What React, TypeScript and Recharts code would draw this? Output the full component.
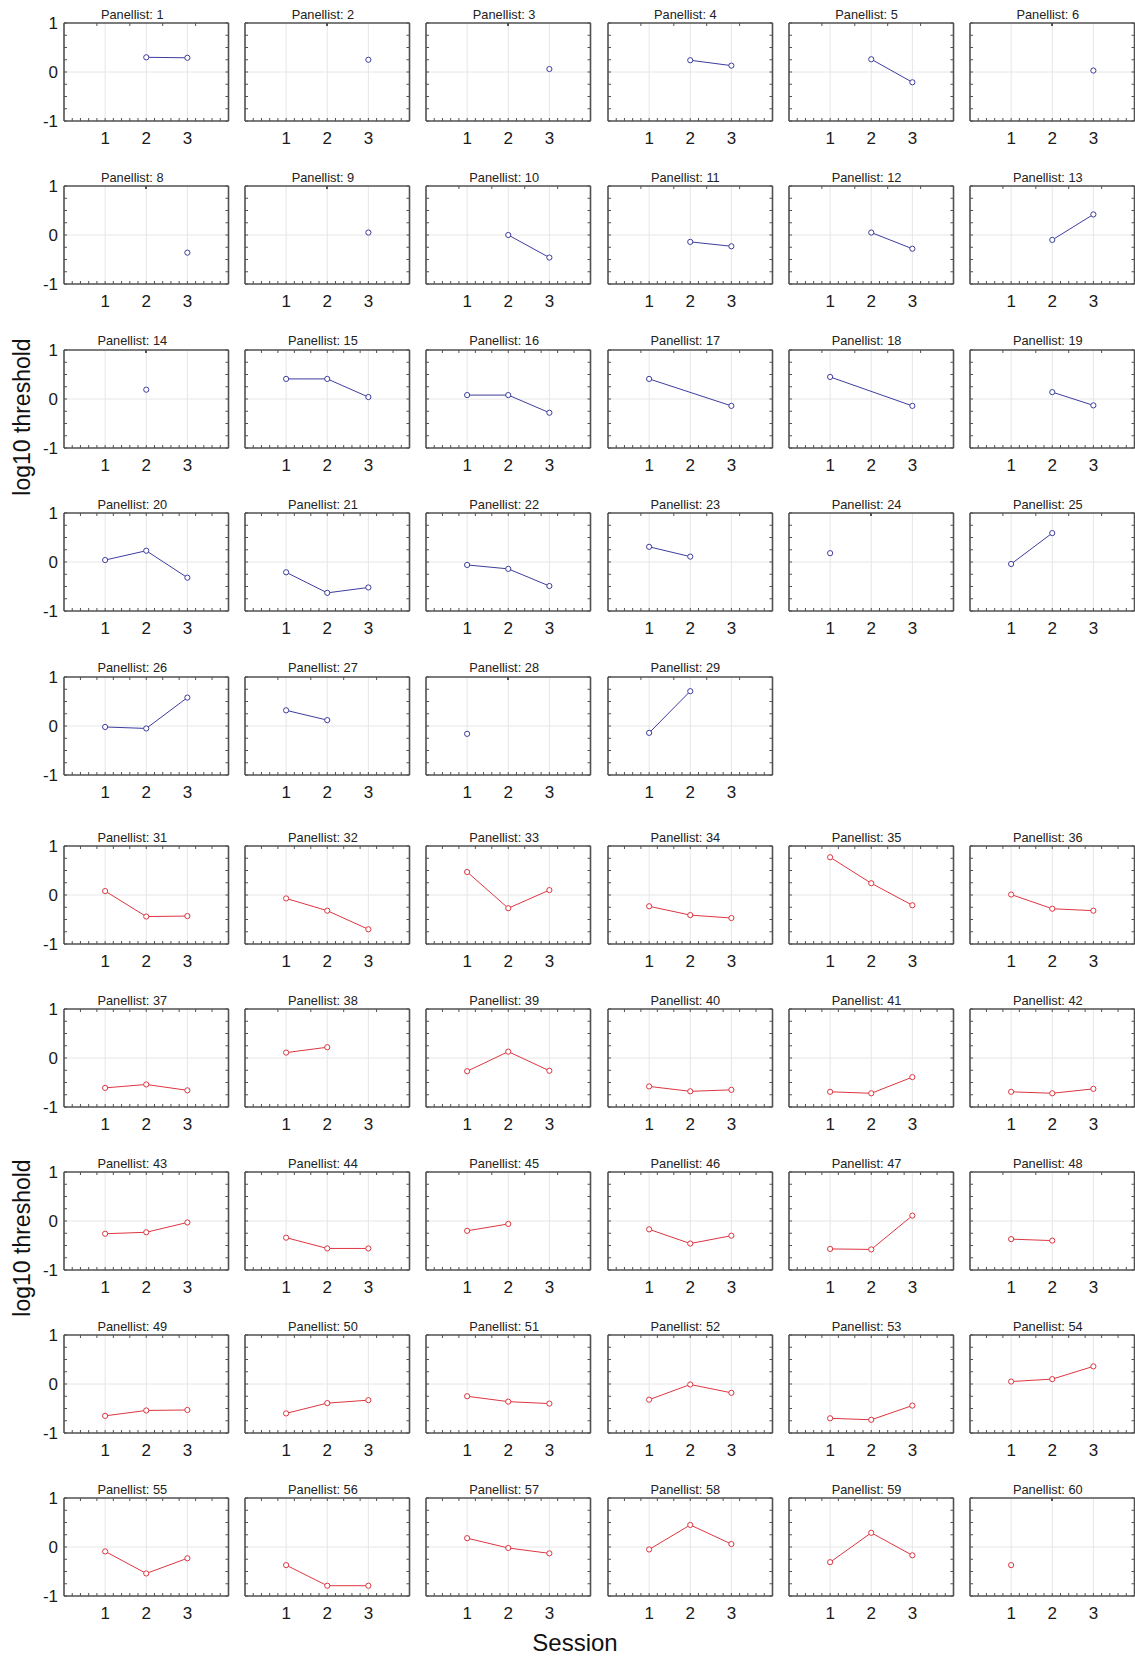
import React from 'react';
import { LineChart, Line, XAxis, YAxis, ReferenceLine } from 'recharts';

// ---------- data ----------
const sessions = [1, 2, 3];
const yTickLabels = [-1, 0, 1];
const xTickLabels = [1, 2, 3];

const groupAIds = [1, 2, 3, 4, 5, 6, 8, 9, 10, 11, 12, 13, 14, 15, 16, 17, 18, 19, 20, 21, 22, 23, 24, 25, 26, 27, 28, 29];
const groupASession1 = [null, null, null, null, null, null, null, null, null, null, null, null, null, 0.41, 0.08, 0.41, 0.45, null, 0.04, -0.21, -0.06, 0.31, 0.18, -0.04, -0.02, 0.32, -0.16, -0.14];
const groupASession2 = [0.30, null, null, 0.24, 0.26, null, null, null, 0.00, -0.14, 0.05, -0.10, 0.19, 0.41, 0.08, null, null, 0.14, 0.23, -0.63, -0.14, 0.11, null, 0.59, -0.05, 0.12, null, 0.71];
const groupASession3 = [0.29, 0.25, 0.06, 0.13, -0.21, 0.03, -0.36, 0.05, -0.46, -0.23, -0.28, 0.42, null, 0.04, -0.28, -0.14, -0.14, -0.13, -0.32, -0.52, -0.49, null, null, null, 0.58, null, null, null];

const groupBIds = [31, 32, 33, 34, 35, 36, 37, 38, 39, 40, 41, 42, 43, 44, 45, 46, 47, 48, 49, 50, 51, 52, 53, 54, 55, 56, 57, 58, 59, 60];
const groupBSession1 = [0.08, -0.07, 0.47, -0.23, 0.77, 0.01, -0.61, 0.11, -0.27, -0.58, -0.69, -0.69, -0.26, -0.34, -0.20, -0.17, -0.57, -0.37, -0.65, -0.60, -0.25, -0.32, -0.70, 0.05, -0.09, -0.37, 0.18, -0.05, -0.31, -0.37];
const groupBSession2 = [-0.44, -0.32, -0.27, -0.41, 0.24, -0.28, -0.54, 0.22, 0.13, -0.68, -0.72, -0.72, -0.23, -0.56, -0.06, -0.46, -0.58, -0.40, -0.54, -0.39, -0.36, -0.01, -0.73, 0.10, -0.54, -0.79, -0.02, 0.45, 0.29, null];
const groupBSession3 = [-0.43, -0.70, 0.10, -0.47, -0.21, -0.32, -0.66, null, -0.26, -0.65, -0.39, -0.63, -0.03, -0.56, null, -0.30, 0.11, null, -0.53, -0.33, -0.40, -0.18, -0.44, 0.36, -0.23, -0.79, -0.13, 0.06, -0.17, null];

// ---------- style / layout ----------
const FONT = '"Liberation Sans", Arial, Helvetica, sans-serif';
const BLUE = '#3d3d9e';
const RED = '#dc3640';
const FRAME = '#505050';
const GRID = '#e6e6e6';

const BOX_W = 164.5;
const BOX_H = 98;
const Y_AXIS_W = 40;
const M = 2;
const M_TOP = 12;
const CHART_W = M + Y_AXIS_W + BOX_W + 1 + M;
const CHART_H = M_TOP + 1 + BOX_H + 30 + M;

const xMinorTicks = Array.from({ length: 19 }, (_, i) => (i + 1) / 5);
const yMinorTicks = Array.from({ length: 9 }, (_, i) => (i - 4) / 4);

const colLeft = (c: number) => 64 + c * 181.2;
const rowTopA = (r: number) => 23 + r * 163.4;
const rowTopB = (r: number) => 846 + r * 163;

const fmtX = (v: number) => (xTickLabels.includes(v) ? String(v) : '');
const fmtY = (v: number) => (yTickLabels.includes(v) ? String(v) : '');
const fmtNone = () => '';

type PanelProps = {
  id: number;
  values: (number | null)[];
  color: string;
  left: number;
  top: number;
  showY: boolean;
  col: number;
};

function Panel({ id, values, color, left, top, showY, col }: PanelProps) {
  const data = sessions
    .map((s, i) => ({ session: s, value: values[i] }))
    .filter((d) => d.value !== null && d.value !== undefined);
  const titleCenter = left + BOX_W / 2 + (col === 0 ? -14 : -4.5);
  return (
    <>
      <div
        style={{
          position: 'absolute',
          left: titleCenter,
          top: top - 14.5,
          transform: 'translateX(-50%)',
          fontFamily: FONT,
          fontSize: 12.8,
          lineHeight: 1,
          color: '#222',
          whiteSpace: 'nowrap',
        }}
      >
        Panellist: {id}
      </div>
      <div style={{ position: 'absolute', left: left - M - Y_AXIS_W, top: top - M_TOP - 1, width: CHART_W, height: CHART_H }}>
        <LineChart width={CHART_W} height={CHART_H} data={data} margin={{ top: M_TOP, right: M, bottom: M, left: M }}>
          <XAxis
            xAxisId="x"
            type="number"
            dataKey="session"
            domain={[0, 4]}
            ticks={xMinorTicks}
            interval={0}
            tickFormatter={fmtX}
            tickSize={-3}
            tickMargin={13.5}
            height={30}
            axisLine={{ stroke: FRAME, strokeWidth: 1.6 }}
            tickLine={{ stroke: FRAME, strokeWidth: 1 }}
            tick={{ fontSize: 17, fill: '#1a1a1a', fontFamily: FONT }}
            allowDataOverflow
          />
          <XAxis
            xAxisId="xt"
            orientation="top"
            type="number"
            domain={[0, 4]}
            ticks={xMinorTicks}
            interval={0}
            tickFormatter={fmtNone}
            tickSize={-3}
            height={1}
            axisLine={{ stroke: FRAME, strokeWidth: 1.6 }}
            tickLine={{ stroke: FRAME, strokeWidth: 1 }}
            tick={{ fontSize: 1 }}
            allowDataOverflow
          />
          <YAxis
            yAxisId="y"
            type="number"
            domain={[-1, 1]}
            ticks={yMinorTicks}
            interval={0}
            tickFormatter={showY ? fmtY : fmtNone}
            tickSize={-3}
            tickMargin={9}
            width={Y_AXIS_W}
            axisLine={{ stroke: FRAME, strokeWidth: 1.6 }}
            tickLine={{ stroke: FRAME, strokeWidth: 1 }}
            tick={{ fontSize: 17, fill: '#1a1a1a', fontFamily: FONT }}
            allowDataOverflow
          />
          <YAxis
            yAxisId="yr"
            orientation="right"
            type="number"
            domain={[-1, 1]}
            ticks={yMinorTicks}
            interval={0}
            tickFormatter={fmtNone}
            tickSize={-3}
            width={1}
            axisLine={{ stroke: FRAME, strokeWidth: 1.6 }}
            tickLine={{ stroke: FRAME, strokeWidth: 1 }}
            tick={{ fontSize: 1 }}
            allowDataOverflow
          />
          {xTickLabels.map((v) => (
            <ReferenceLine key={'gx' + v} xAxisId="x" yAxisId="y" x={v} stroke={GRID} strokeWidth={1} />
          ))}
          <ReferenceLine xAxisId="x" yAxisId="y" y={0} stroke={GRID} strokeWidth={1} />
          <Line
            xAxisId="x"
            yAxisId="y"
            type="linear"
            dataKey="value"
            stroke={color}
            strokeWidth={1}
            dot={{ r: 2.6, fill: '#fff', stroke: color, strokeWidth: 1 }}
            activeDot={false}
            isAnimationActive={false}
          />
        </LineChart>
      </div>
    </>
  );
}

export default function App() {
  const panels: React.ReactNode[] = [];
  groupAIds.forEach((id, i) => {
    const r = Math.floor(i / 6);
    const c = i % 6;
    panels.push(
      <Panel
        key={'a' + id}
        id={id}
        values={[groupASession1[i], groupASession2[i], groupASession3[i]]}
        color={BLUE}
        left={colLeft(c)}
        top={rowTopA(r)}
        showY={c === 0}
        col={c}
      />
    );
  });
  groupBIds.forEach((id, i) => {
    const r = Math.floor(i / 6);
    const c = i % 6;
    panels.push(
      <Panel
        key={'b' + id}
        id={id}
        values={[groupBSession1[i], groupBSession2[i], groupBSession3[i]]}
        color={RED}
        left={colLeft(c)}
        top={rowTopB(r)}
        showY={c === 0}
        col={c}
      />
    );
  });

  const yLabelStyle: React.CSSProperties = {
    position: 'absolute',
    left: 22,
    transform: 'translate(-50%, -50%) rotate(-90deg)',
    fontFamily: FONT,
    fontSize: 23,
    lineHeight: 1,
    color: '#111',
    whiteSpace: 'nowrap',
  };

  return (
    <div
      style={{
        position: 'absolute',
        left: 0,
        top: 0,
        width: 1135,
        height: 1657,
        overflow: 'hidden',
        background: '#fff',
      }}
    >
      {panels}
      <div style={{ ...yLabelStyle, top: 417 }}>log10 threshold</div>
      <div style={{ ...yLabelStyle, top: 1238 }}>log10 threshold</div>
      <div
        style={{
          position: 'absolute',
          left: 575,
          top: 1630,
          transform: 'translateX(-50%)',
          fontFamily: FONT,
          fontSize: 24,
          lineHeight: 1.05,
          color: '#111',
          whiteSpace: 'nowrap',
        }}
      >
        Session
      </div>
    </div>
  );
}
